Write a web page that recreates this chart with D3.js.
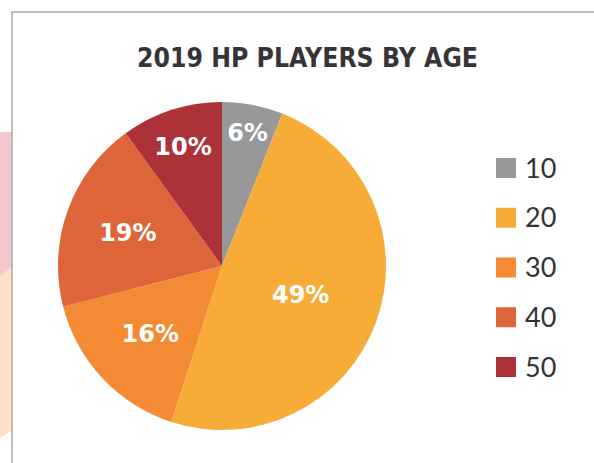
<!DOCTYPE html>
<html>
<head>
<meta charset="utf-8">
<script src="https://cdn.jsdelivr.net/npm/d3@7"></script>
<style>
  html, body { margin: 0; padding: 0; background: #fff; }
  svg { display: block; }
</style>
</head>
<body>
<svg id="chart" width="594" height="463"></svg>
<script>
// ---- data ----
const title = "2019 HP PLAYERS BY AGE";
const categories = ["10", "20", "30", "40", "50"];
const values = [6, 49, 16, 19, 10];
const colors = ["#979899", "#F6AC37", "#F58A34", "#DE643A", "#AD3237"];
// label distance from center as fraction of radius (layout, per slice)
const labelRadiusFactor = [0.83, 0.51, 0.60, 0.61, 0.77];

const W = 594, H = 463;
const svg = d3.select("#chart");

// decorative background shapes (outside the frame, left)
svg.append("polygon")
  .attr("points", "0,132 12,132 12,267 0,277")
  .attr("fill", "#F2C8CC");
svg.append("polygon")
  .attr("points", "0,277 12,267 12,430 0,438")
  .attr("fill", "#FDE0C5");

// frame
svg.append("rect")
  .attr("x", 12).attr("y", 12)
  .attr("width", W + 20).attr("height", H + 20)
  .attr("fill", "#fff")
  .attr("stroke", "#ABABAB")
  .attr("stroke-width", 1.5);

// title
svg.append("text")
  .attr("x", 307.5).attr("y", 67)
  .attr("text-anchor", "middle")
  .attr("font-family", "'DejaVu Sans', sans-serif")
  .attr("font-weight", "bold")
  .attr("font-size", 27)
  .attr("fill", "#363436")
  .attr("textLength", 341)
  .attr("lengthAdjust", "spacingAndGlyphs")
  .text(title);

// pie
const cx = 222, cy = 266, R = 164;
const data = categories.map((c, i) => ({ cat: c, value: values[i], i }));
const color = d3.scaleOrdinal().domain(categories).range(colors);
const pie = d3.pie().value(d => d.value).sort(null);
const arcs = pie(data);
const arc = d3.arc().innerRadius(0).outerRadius(R);

const g = svg.append("g").attr("transform", `translate(${cx},${cy})`);
g.selectAll("path.slice")
  .data(arcs)
  .join("path")
  .attr("class", "slice")
  .attr("d", arc)
  .attr("fill", d => color(d.data.cat));

g.selectAll("text.lbl")
  .data(arcs)
  .join("text")
  .attr("class", "lbl")
  .attr("transform", d => {
    const r = R * labelRadiusFactor[d.data.i];
    const a = (d.startAngle + d.endAngle) / 2;
    return `translate(${Math.sin(a) * r},${-Math.cos(a) * r})`;
  })
  .attr("text-anchor", "middle")
  .attr("dy", "0.36em")
  .attr("font-family", "'DejaVu Sans', sans-serif")
  .attr("font-weight", "bold")
  .attr("font-size", 24)
  .attr("fill", "#fff")
  .text(d => d.data.value + "%");

// legend
const ly = d3.scalePoint().domain(categories).range([168, 367]);
const leg = svg.append("g");
const items = leg.selectAll("g.item")
  .data(categories)
  .join("g")
  .attr("class", "item")
  .attr("transform", d => `translate(496,${ly(d)})`);
items.append("rect")
  .attr("x", 0).attr("y", -10)
  .attr("width", 20).attr("height", 20)
  .attr("fill", d => color(d));
items.append("text")
  .attr("x", 29).attr("y", 0)
  .attr("dy", "0.36em")
  .attr("font-family", "Lato, 'Open Sans', sans-serif")
  .attr("font-size", 27)
  .attr("fill", "#333")
  .text(d => d);
</script>
</body>
</html>
